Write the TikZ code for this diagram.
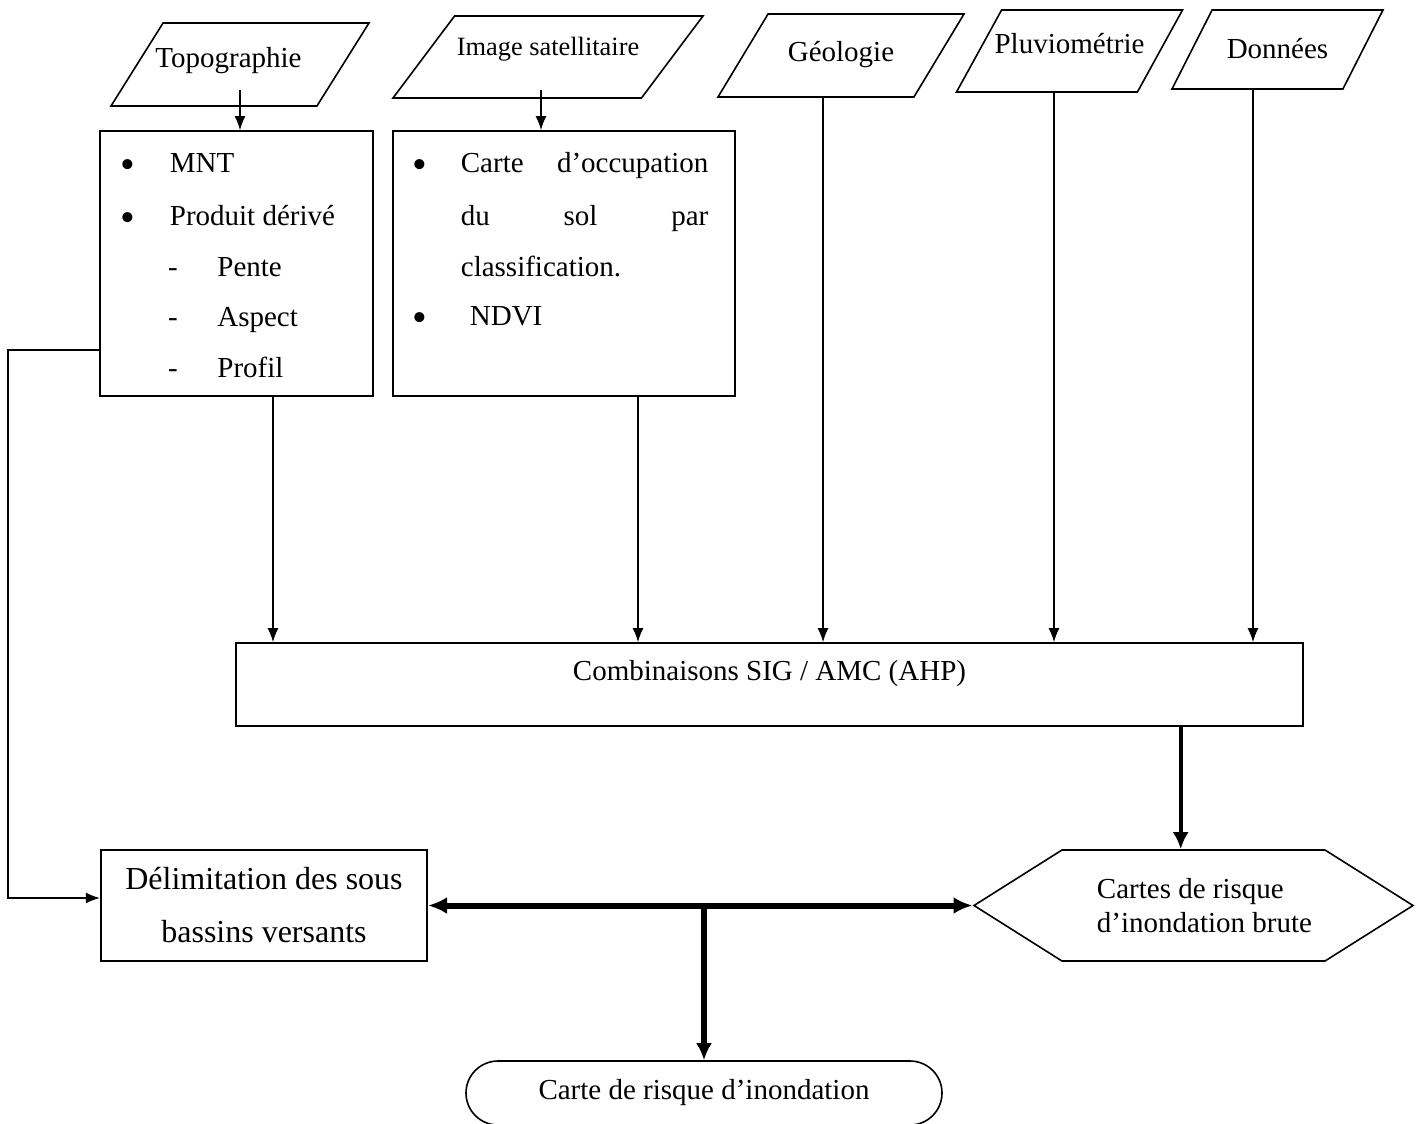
\documentclass[tikz,border=0pt]{standalone}
\usepackage{fontspec}
\setmainfont{Liberation Serif}
\usetikzlibrary{shapes.geometric,shapes.symbols,shapes.misc,arrows.meta}
\tikzset{
    entree/.style={trapezium, draw, line width=0.8pt, trapezium stretches body=true, inner sep=0pt},
    boite/.style={rectangle, draw, line width=0.8pt, inner sep=0pt},
    puce/.style={anchor=base, inner sep=0pt},
    ligne/.style={anchor=base west, inner sep=0pt},
    fleche/.style={line width=0.8pt, -{Latex[length=7pt,width=5.5pt]}},
    flechemoy/.style={line width=2pt, -{Latex[length=8.5pt,width=8pt]}},
    grosse/.style={line width=3pt}
}
\newcommand{\gpuce}{{\fontsize{21}{21}\selectfont\raisebox{-3pt}{\textbullet}}}

\begin{document}
\begin{tikzpicture}[x=0.5pt, y=-0.5pt, every node/.append style={font=\fontsize{14.5}{17}\selectfont}]
                    \useasboundingbox (0,0) rectangle (1420,1124);
                    \node (topo) [entree, trapezium left angle=57.9, trapezium right angle=122.1, minimum width=129pt, text height=22.5pt, text depth=19pt] at (240,64.5) {\hspace*{-11.5pt}Topographie};
                    \node (image) [entree, trapezium left angle=53.1, trapezium right angle=126.9, minimum width=155pt, font=\fontsize{13.2}{15}\selectfont, text height=19.5pt, text depth=21.5pt] at (548,57) {Image satellitaire};
                    \node (geologie) [entree, trapezium left angle=58.9, trapezium right angle=121.1, minimum width=123pt, text height=23.85pt, text depth=17.65pt] at (841,55.5) {Géologie};
                    \node (pluvio) [entree, trapezium left angle=61.2, trapezium right angle=118.8, minimum width=112.5pt, text height=21.65pt, text depth=19.35pt] at (1069.5,51) {\hspace*{-3.5pt}Pluviométrie\hspace*{-3.5pt}};
                    \node (donnees) [entree, trapezium left angle=63.1, trapezium right angle=116.9, minimum width=105.5pt, text height=24.15pt, text depth=15.35pt] at (1277.5,49.5) {Données};
                    \node (mnt) [boite, minimum width=136.5pt, minimum height=132.5pt] at (236.5,263.5) {};
                    \node (occsol) [boite, minimum width=171pt, minimum height=132.5pt] at (564,263.5) {};
                    \node (p1) [puce] at (128,172) {\gpuce};
                    \node (t1) [ligne] at (169.5,172) {MNT};
                    \node (p2) [puce] at (128,225) {\gpuce};
                    \node (t2) [ligne] at (169.5,225) {Produit dérivé};
                    \node (d1) [puce] at (173,276) {-};
                    \node (t3) [ligne] at (217,276) {Pente};
                    \node (d2) [puce] at (173,326) {-};
                    \node (t4) [ligne] at (217,326) {Aspect};
                    \node (d3) [puce] at (173,377) {-};
                    \node (t5) [ligne] at (217,377) {Profil};
                    \node (p3) [puce] at (419.5,172) {\gpuce};
                    \node (o1) [ligne] at (460.5,172) {\makebox[123.75pt][s]{Carte d’occupation}};
                    \node (o2) [ligne] at (460.5,225) {\makebox[123.75pt][s]{du sol par}};
                    \node (o3) [ligne] at (460.5,276) {classification.};
                    \node (p4) [puce] at (419.5,325) {\gpuce};
                    \node (o4) [ligne] at (469.5,325) {NDVI};
                    \node (sigamc) [boite, minimum width=533.5pt, minimum height=41.5pt, text depth=14.4pt] at (769.5,684.5) {Combinaisons SIG / AMC (AHP)};
                    \node (delim) [boite, minimum width=163.25pt, minimum height=55.5pt, align=center, font=\fontsize{16}{26.5}\selectfont] at (264,905.5) {Délimitation des sous\\bassins versants};
                    \node (brute) [signal, draw, line width=0.8pt, signal to=west and east, signal pointer angle=64.5, minimum width=219.5pt, minimum height=55.5pt, inner sep=0pt, align=left] at (1193.5,905.5) {\hspace*{11pt}Cartes de risque\\\hspace*{11pt}d’inondation brute};
                    \node (carte) [rounded rectangle, draw, line width=0.8pt, minimum width=238pt, minimum height=32pt, inner sep=0pt] at (704,1093) {Carte de risque d’inondation};
                    \draw[fleche] ([yshift=-12.75pt]topo.center) -- (topo.center |- mnt.north);
                    \draw[fleche] ([xshift=-3.5pt,yshift=-16.5pt]image.center) -- ([xshift=-3.5pt]image.center |- occsol.north);
                    \draw[fleche] ([xshift=18.25pt]mnt.south) -- ([xshift=18.25pt]mnt.south |- sigamc.north);
                    \draw[fleche] ([xshift=37pt]occsol.south) -- ([xshift=37pt]occsol.south |- sigamc.north);
                    \draw[fleche] ([xshift=-9pt]geologie.south) -- ([xshift=-9pt]geologie.south |- sigamc.north);
                    \draw[fleche] ([xshift=-7.75pt]pluvio.south) -- ([xshift=-7.75pt]pluvio.south |- sigamc.north);
                    \draw[fleche] ([xshift=-12.25pt]donnees.south) -- ([xshift=-12.25pt]donnees.south |- sigamc.north);
                    \draw[flechemoy] ([xshift=-6.4pt]brute.north |- sigamc.south) -- ([xshift=-6.4pt]brute.north);
                    \draw[fleche] ([yshift=-43.25pt]mnt.west) -- ++(-91,0) |- ([yshift=3.75pt]delim.west);
                    \draw[grosse, {Latex[length=9.5pt,width=8.5pt]}-{Latex[length=9.5pt,width=8.5pt]}] (delim.east) -- (brute.west);
                    \draw[grosse, -{Latex[length=8.5pt,width=8pt]}] (carte.north |- delim.east) -- (carte.north);
                \end{tikzpicture}
\end{document}
